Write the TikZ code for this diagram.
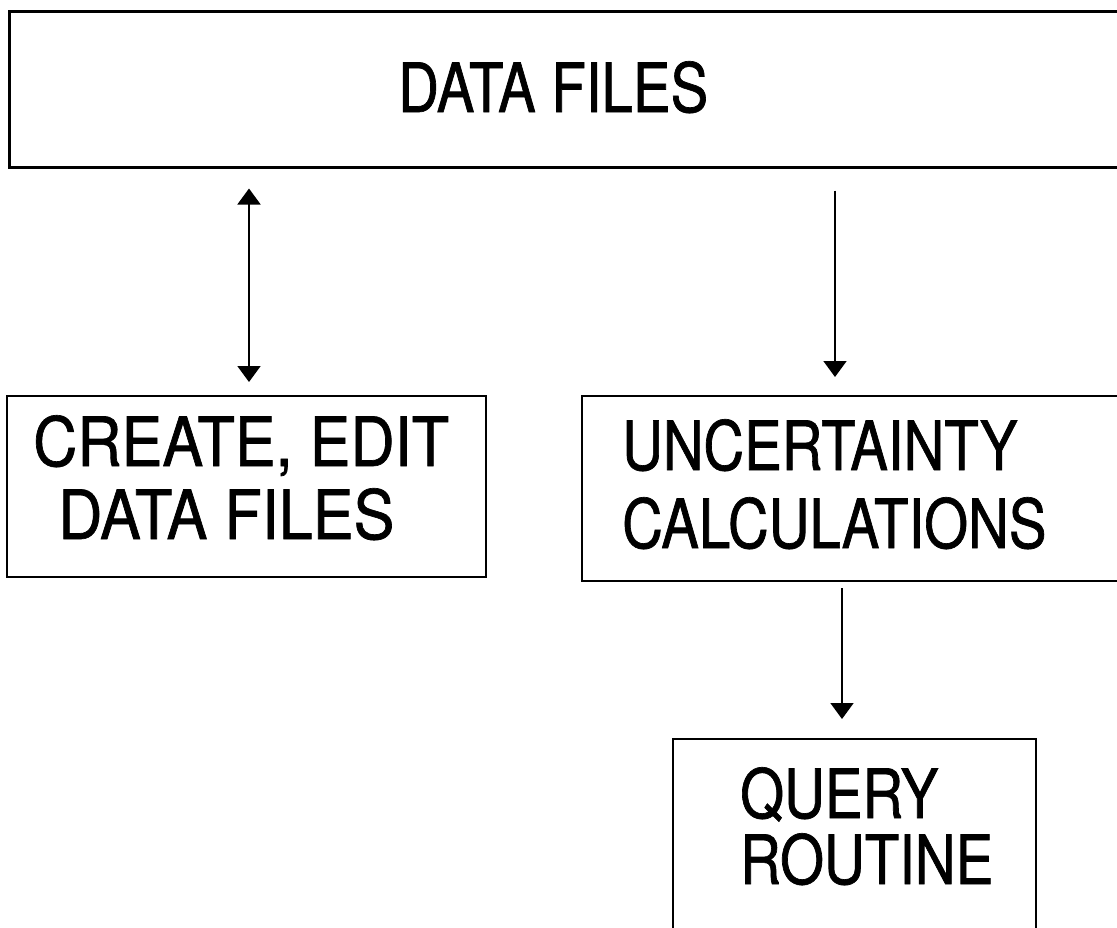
\documentclass[tikz,border=0pt]{standalone}
\usepackage{fontspec}
\setmainfont[FakeStretch=0.83,FakeBold=1]{TeX Gyre Heros}
\newfontfamily\wideface[FakeStretch=0.9,FakeBold=1]{TeX Gyre Heros}
\usetikzlibrary{arrows.meta}
\begin{document}
\begin{tikzpicture}[x=1pt,y=-1pt,
  box/.style={draw=black, line width=2pt, rectangle, inner sep=0pt},
  topbox/.style={box, line width=3pt},
  label/.style={anchor=base west, inner sep=0pt, font=\fontsize{68}{75}\selectfont},
  widelabel/.style={label, font=\fontsize{68}{75}\wideface},
  flow/.style={line width=1.8pt, -{Triangle[length=16pt,width=23pt]}},
  twoway/.style={line width=1.8pt, {Triangle[length=16pt,width=23pt]}-{Triangle[length=16pt,width=23pt]}}]
  \useasboundingbox (0,0) rectangle (1117,927);

  % boxes
  \node[topbox, minimum width=1121pt, minimum height=156pt] (data) at (569.5,89) {};
  \node[box, minimum width=479pt, minimum height=181pt] (edit) at (246.5,486.5) {};
  \node[box, minimum width=548pt, minimum height=185pt] (calc) at (856,488.5) {};
  \node[box, minimum width=363pt, minimum height=211pt] (query) at (854.5,844.5) {};

  % box texts
  \node[label] (tdata) at (398,112) {DATA FILES};
  \node[widelabel] (tedit1) at (33,466) {CREATE, EDIT};
  \node[widelabel] (tedit2) at (58,539) {DATA FILES};
  \node[label] (tcalc1) at (622,470) {UNCERTAINTY};
  \node[label] (tcalc2) at (622,548) {CALCULATIONS};
  \node[label] (tquery1) at (740,818) {QUERY};
  \node[label] (tquery2) at (740,884) {ROUTINE};

  % connectors
  \coordinate (c1) at (249,0);
  \coordinate (c2) at (835,0);
  \coordinate (c3) at (842,0);
  \draw[twoway, shorten <=20pt, shorten >=13pt] (data.south -| c1) -- (edit.north -| c1);
  \draw[flow, shorten <=22pt, shorten >=18pt] (data.south -| c2) -- (calc.north -| c2);
  \draw[flow, shorten <=6pt, shorten >=19pt] (calc.south -| c3) -- (query.north -| c3);
\end{tikzpicture}
\end{document}
